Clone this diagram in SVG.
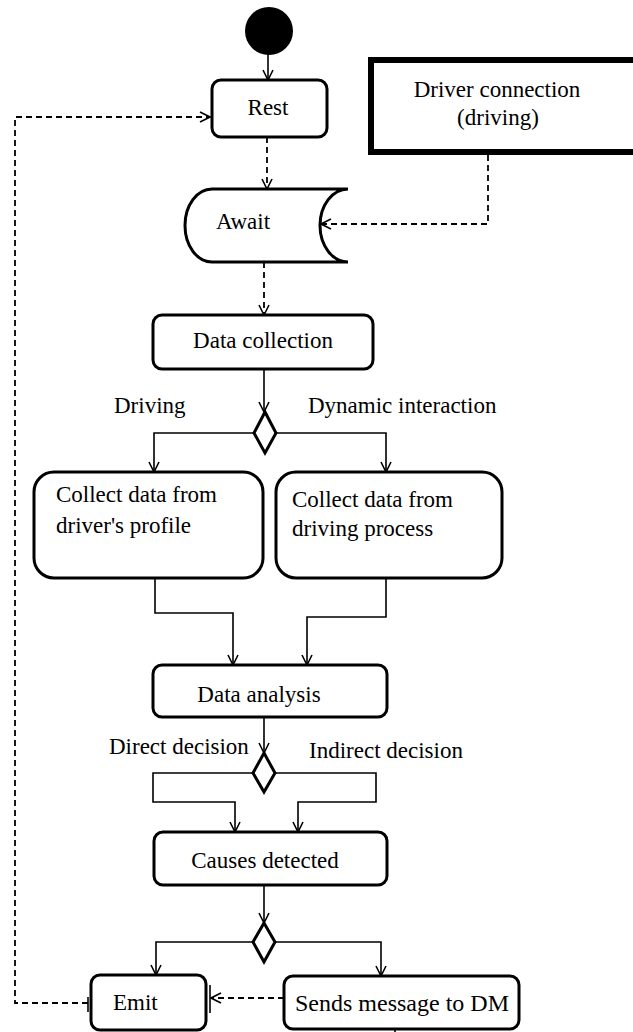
<svg xmlns="http://www.w3.org/2000/svg" width="633" height="1032" viewBox="0 0 633 1032">
<defs>
<style>
.box{fill:#fff;stroke:#000;stroke-width:3}
.t{font-family:"Liberation Serif","Times New Roman",serif;font-size:23px;fill:#000}
.s{fill:none;stroke:#000;stroke-width:1.6}
.d{fill:none;stroke:#000;stroke-width:1.8;stroke-dasharray:6 4}
</style>
<marker id="a" viewBox="0 0 12 12" refX="11" refY="6" markerWidth="12" markerHeight="12" markerUnits="userSpaceOnUse" orient="auto">
<path d="M1,1 L11,6 L1,11" fill="none" stroke="#000" stroke-width="1.6"/>
</marker>
</defs>
<rect width="633" height="1032" fill="#fff"/>
<g id="connectors">
<line class="s" x1="268" y1="54" x2="268" y2="80" marker-end="url(#a)"/>
<line class="d" x1="267" y1="137" x2="267" y2="189" marker-end="url(#a)"/>
<polyline class="d" points="488,155 488,224 321,224" marker-end="url(#a)"/>
<line class="d" x1="264" y1="262" x2="264" y2="315" marker-end="url(#a)"/>
<line class="s" x1="264" y1="369" x2="264" y2="412" marker-end="url(#a)"/>
<polyline class="s" points="254,433 154,433 154,472" marker-end="url(#a)"/>
<polyline class="s" points="275,433 386,433 386,472" marker-end="url(#a)"/>
<polyline class="s" points="155,578 155,613 233,613 233,665" marker-end="url(#a)"/>
<polyline class="s" points="386,578 386,617 307,617 307,665" marker-end="url(#a)"/>
<line class="s" x1="264" y1="717" x2="264" y2="753" marker-end="url(#a)"/>
<polyline class="s" points="253,773 153,773 153,802 235,802 235,832" marker-end="url(#a)"/>
<polyline class="s" points="275,773 376,773 376,802 298,802 298,832" marker-end="url(#a)"/>
<line class="s" x1="264" y1="885" x2="264" y2="923" marker-end="url(#a)"/>
<polyline class="s" points="253,942 156,942 156,975" marker-end="url(#a)"/>
<polyline class="s" points="275,942 381,942 381,976" marker-end="url(#a)"/>
<line class="d" x1="284" y1="998" x2="211" y2="998" marker-end="url(#a)"/>
<line class="s" x1="210" y1="985" x2="210" y2="1013"/>
<polyline class="d" points="88,1003 15,1003 15,117 210,117" marker-end="url(#a)"/>
<line class="s" x1="88" y1="997" x2="88" y2="1012"/>
<line class="s" x1="395" y1="1029" x2="395" y2="1032"/>
</g>
<g id="start"><circle cx="269" cy="31" r="24" fill="#000"/></g>
<g id="rest"><rect class="box" x="212" y="80" width="115" height="57" rx="9"/><text class="t" x="268" y="115" text-anchor="middle">Rest</text></g>
<g id="driver"><rect x="371" y="60" width="280" height="92" fill="#fff" stroke="#000" stroke-width="6"/><text class="t" x="497" y="97" text-anchor="middle">Driver connection</text><text class="t" x="498" y="125" text-anchor="middle">(driving)</text></g>
<g id="await"><path class="box" d="M348,189 L212,189 A27,36.5 0 0 0 212,262 L348,262 A28,36.5 0 0 1 348,189 Z"/><text class="t" x="216" y="229">Await</text></g>
<g id="datacollection"><rect class="box" x="153" y="315" width="220" height="54" rx="9"/><text class="t" x="263" y="348" text-anchor="middle">Data collection</text></g>
<g id="d1"><polygon class="box" points="265,412 276,433 265,453 254,433"/></g>
<text class="t" x="114" y="413">Driving</text>
<text class="t" x="308" y="413">Dynamic interaction</text>
<g id="collectprofile"><rect class="box" x="34" y="472" width="229" height="106" rx="20"/><text class="t" x="56" y="502">Collect data from</text><text class="t" x="56" y="533">driver's profile</text></g>
<g id="collectprocess"><rect class="box" x="276" y="472" width="226" height="106" rx="20"/><text class="t" x="292" y="507">Collect data from</text><text class="t" x="292" y="536">driving process</text></g>
<g id="dataanalysis"><rect class="box" x="153" y="665" width="234" height="52" rx="9"/><text class="t" x="259" y="702" text-anchor="middle">Data analysis</text></g>
<g id="d2"><polygon class="box" points="264,753 275,773 264,792 253,773"/></g>
<text class="t" x="109" y="754">Direct decision</text>
<text class="t" x="309" y="758">Indirect decision</text>
<g id="causes"><rect class="box" x="154" y="832" width="233" height="53" rx="9"/><text class="t" x="265" y="868" text-anchor="middle">Causes detected</text></g>
<g id="d3"><polygon class="box" points="264,923 275,942 264,962 253,942"/></g>
<g id="emit"><rect class="box" x="91" y="975" width="115" height="55" rx="9"/><text class="t" x="113" y="1010">Emit</text></g>
<g id="sends"><rect class="box" x="284" y="976" width="235" height="53" rx="9"/><text class="t" x="402" y="1011" text-anchor="middle" textLength="214" lengthAdjust="spacingAndGlyphs">Sends message to DM</text></g>
</svg>
